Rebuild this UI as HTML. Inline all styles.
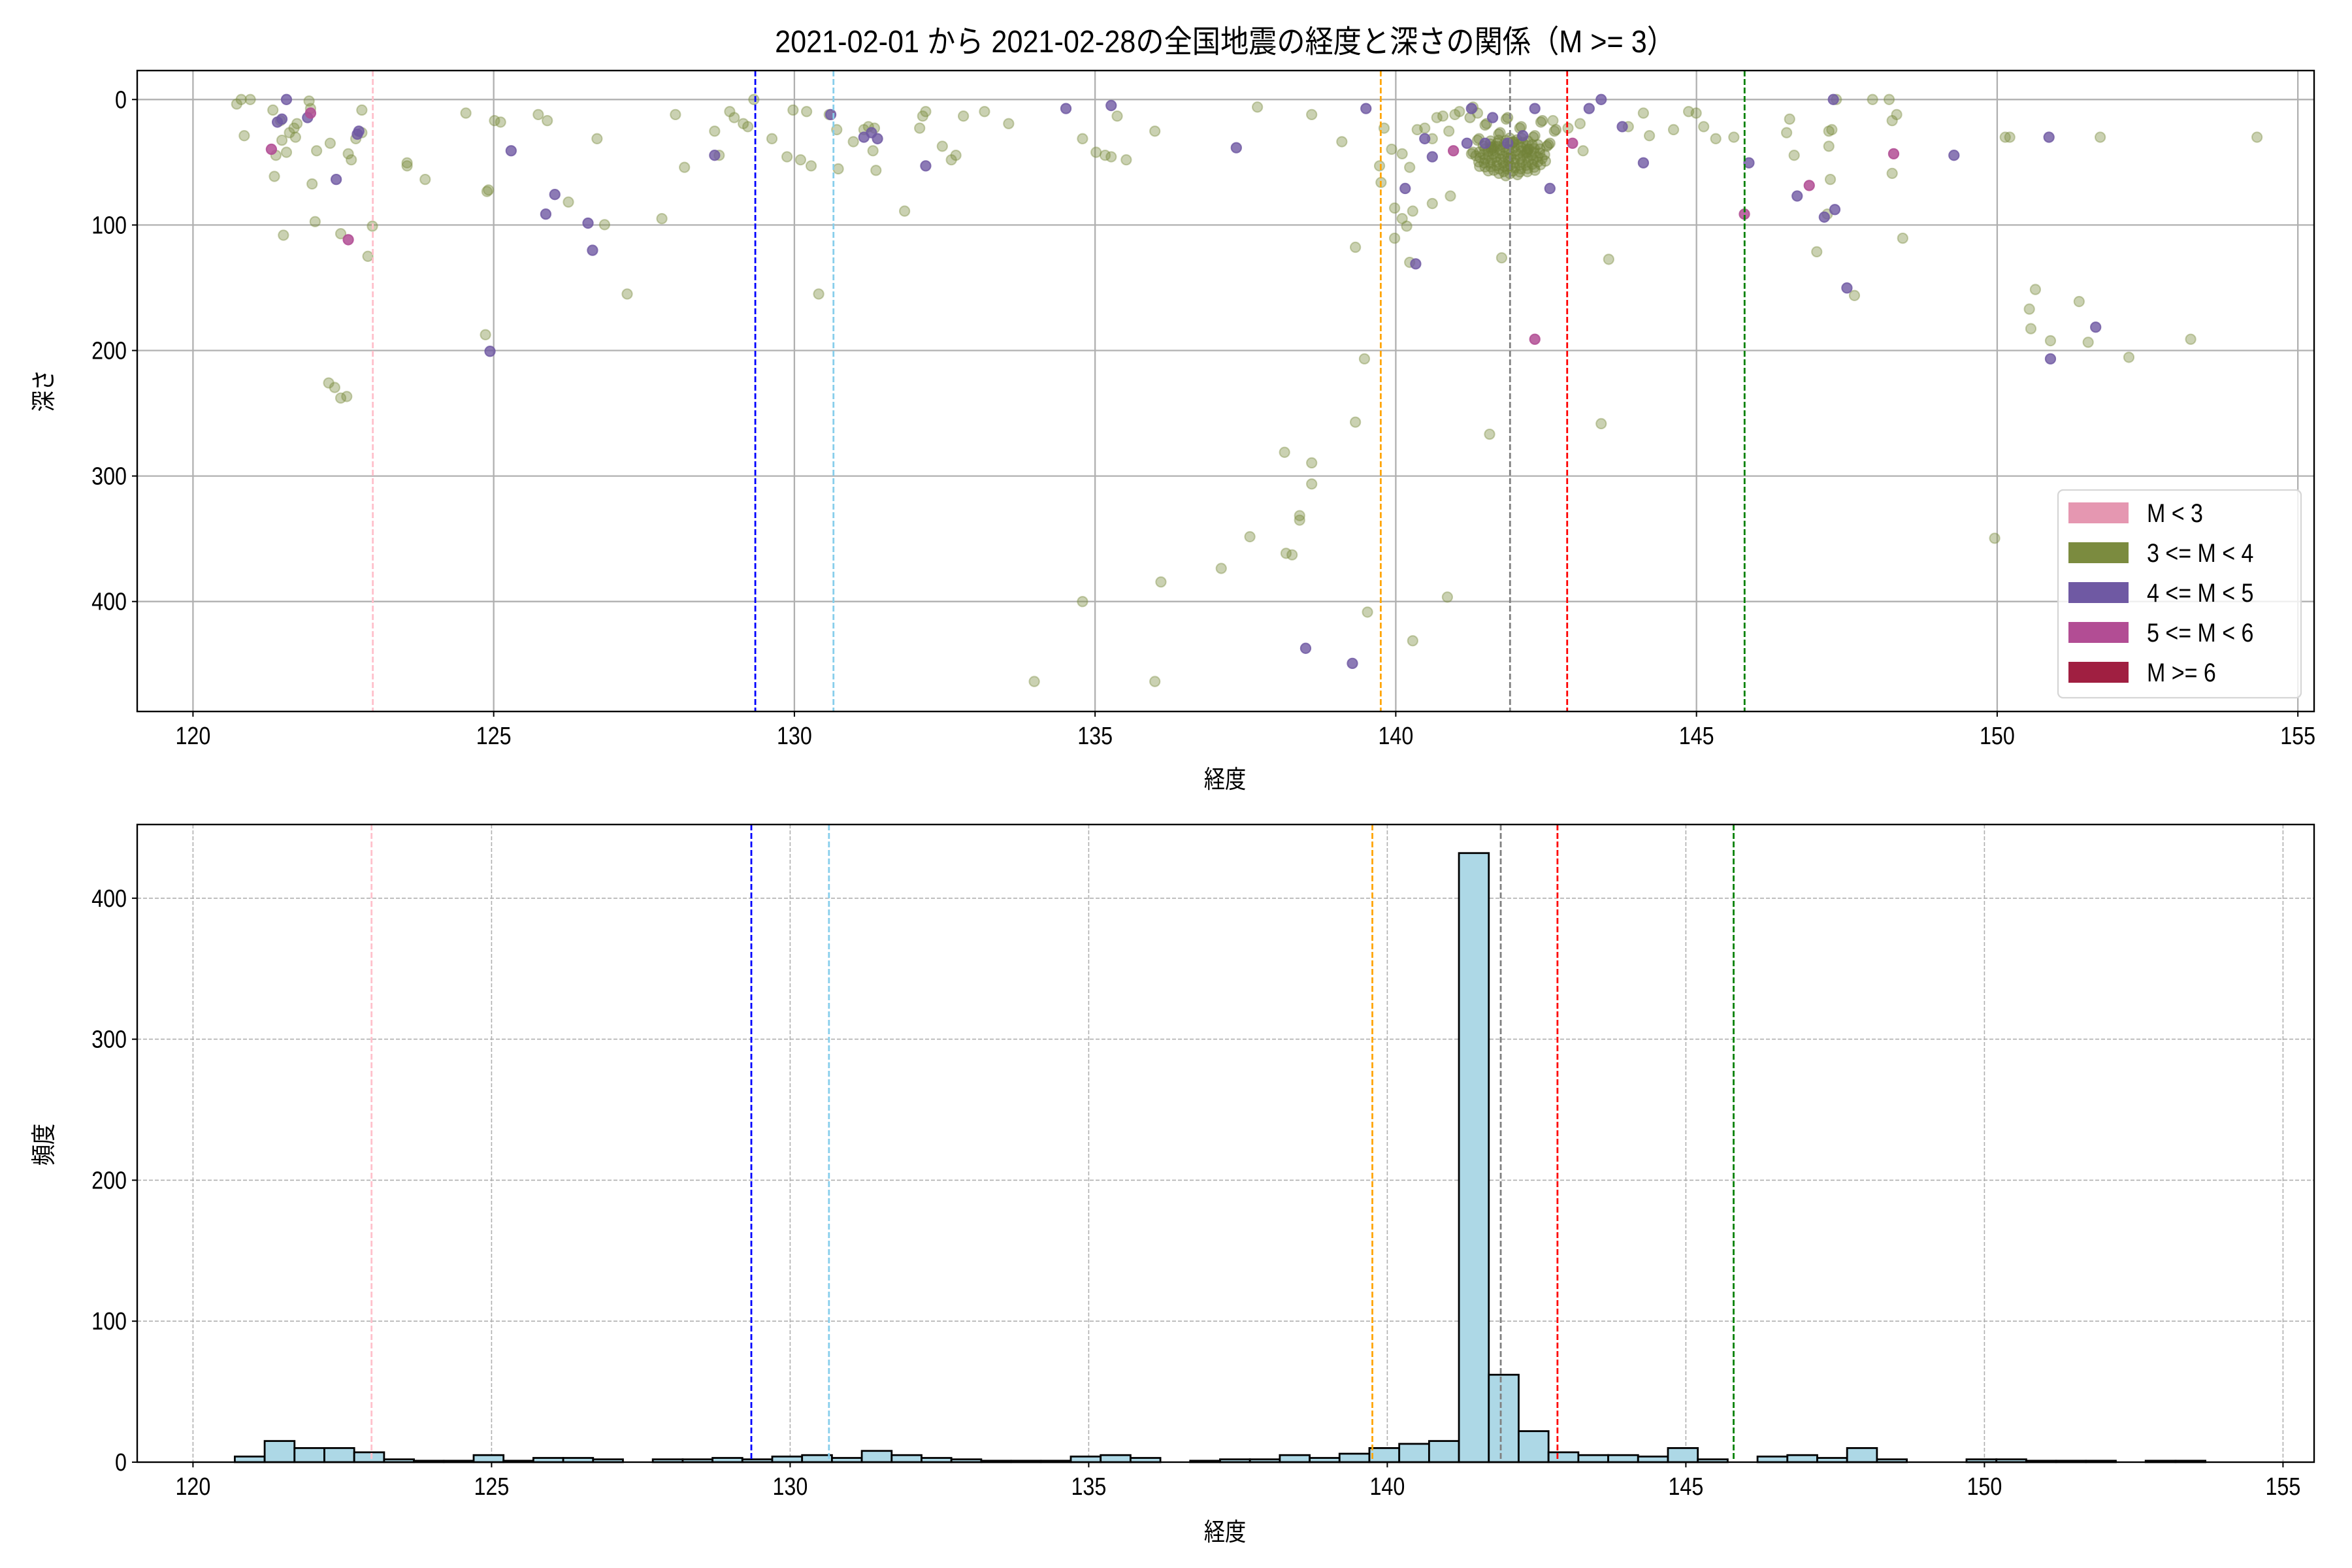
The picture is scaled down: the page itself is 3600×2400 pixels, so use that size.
<!DOCTYPE html>
<html><head><meta charset="utf-8">
<style>
html,body{margin:0;padding:0;background:#fff}
svg{display:block}
text{font-family:"Liberation Sans","Noto Sans CJK JP",sans-serif;fill:#000}
</style></head>
<body>
<svg id="s" width="3600" height="2400" xmlns="http://www.w3.org/2000/svg">
<rect width="3600" height="2400" fill="#fff"/>
<g transform="translate(1875,80) scale(0.9,1)"><text x="0" y="0" font-size="48" text-anchor="middle">2021-02-01 から 2021-02-28の全国地震の経度と深さの関係（M &gt;= 3）</text></g>
<g id="gtop"></g>
<g id="gbot"></g>
</svg>
<script>
(function(){
const NS="http://www.w3.org/2000/svg";
function el(p,t,a,txt){const e=document.createElementNS(NS,t);for(const k in a)e.setAttribute(k,a[k]);if(txt!==undefined)e.textContent=txt;p.appendChild(e);return e;}
function tx(p,x,y,s,anchor,fs,rot){const g=el(p,'g',{transform:'translate('+x+','+y+')'+(rot?' rotate(-90)':'')+' scale(0.85,1)'});el(g,'text',{x:0,y:0,'font-size':fs,'text-anchor':anchor},s);}
const gt=document.getElementById('gtop'),gb=document.getElementById('gbot');
const L=210,R=3542,T1=108,B1=1089,T2=1262,B2=2238;
const xt=l=>295.4+92.05*(l-120), yt=v=>152.3+1.921*v;
const xb=l=>295.4+91.4*(l-120), yb=v=>2238-2.158*v;
for(let l=120;l<=155;l+=5){el(gt,'line',{x1:xt(l),x2:xt(l),y1:T1,y2:B1,stroke:'#b0b0b0','stroke-width':2.3});}
for(let v=0;v<=400;v+=100){el(gt,'line',{x1:L,x2:R,y1:yt(v),y2:yt(v),stroke:'#b0b0b0','stroke-width':2.3});}
const vl=[[122.99,'pink'],[129.35,'blue'],[130.65,'#87ceeb'],[139.75,'orange'],[141.9,'gray'],[142.85,'red'],[145.8,'green']];
const g=el(gt,'g',{transform:'scale(2.3077)'});
const ol=[[157,69],[160,66],[166,66],[162,90],[181,73],[183,103],[182,117],[186,80],[187,93],[190,101],[192,88],[195,85],[188,156],[196,91],[197,82],[205,67],[206,72],[207,122],[209,147],[210,100],[219,95],[226,155],[231,102],[233,106],[236,92],[240,73],[240,88],[244,170],[247,150],[218,254],[222,257],[226,264],[230,263],[270,108],[270,110],[282,119],[309,75],[322,222],[323,127],[324,126],[328,80],[332,81],[357,76],[363,80],[377,134],[396,92],[401,149],[416,195],[439,145],[448,76],[454,111],[474,87],[477,103],[484,74],[487,78],[493,82],[496,84],[500,66],[512,92],[522,104],[526,73],[531,106],[535,74],[538,110],[543,195],[550,76],[555,86],[556,112],[566,94],[573,86],[579,100],[581,113],[576,84],[580,85],[600,140],[610,85],[612,77],[614,74],[625,97],[631,106],[634,103],[639,77],[653,74],[669,82],[686,452],[718,92],[718,399],[727,101],[733,103],[737,104],[741,77],[747,106],[766,87],[766,452],[770,386],[810,377],[829,356],[834,71],[852,300],[853,367],[857,368],[862,342],[862,345],[870,307],[870,321],[870,76],[890,94],[899,164],[899,280],[905,238],[907,406],[916,121],[923,99],[918,85],[937,425],[935,111],[930,102],[940,86],[945,85],[950,92],[953,78],[957,77],[961,87],[965,76],[968,74],[977,71],[980,75],[988,288],[933,150],[925,158],[925,138],[930,145],[935,174],[937,140],[960,396],[996,171],[1067,172],[1062,281],[1080,84],[1094,90],[1090,75],[1110,86],[1120,74],[1125,75],[1130,84],[1138,92],[1150,91],[1185,88],[1187,79],[1190,103],[1205,167],[1212,142],[1213,97],[1213,87],[1215,86],[1218,66],[1214,119],[1230,196],[1242,66],[1253,66],[1255,80],[1258,76],[1255,115],[1262,158],[1330,91],[1333,91],[1323,357],[1346,205],[1347,218],[1350,192],[1360,226],[1379,200],[1385,227],[1393,91],[1412,237],[1453,225],[1497,91],[915,110],[950,135],[962,130],[1000,110],[1030,80],[1040,85],[1048,82],[1050,100]];
ol.forEach(p=>el(g,'circle',{cx:p[0],cy:p[1],r:3.3,fill:'rgba(123,139,63,0.4)',stroke:'rgba(123,139,63,0.4)','stroke-width':0.9}));
const cl=[];
for(let i=0;i<100;i++){const a=i*2.399,r=Math.sqrt(i/100);cl.push([1002+r*Math.cos(a)*24,104+r*Math.sin(a)*13]);}
for(let i=0;i<30;i++){cl.push([975+((i*37)%60),78+((i*23)%25)]);}
cl.forEach(p=>el(g,'circle',{cx:p[0],cy:p[1],r:3.3,fill:'rgba(115,132,58,0.42)',stroke:'rgba(115,132,58,0.42)','stroke-width':0.9}));
const pu=[[190,66],[184,81],[187,79],[204,78],[223,119],[238,87],[237,89],[339,100],[362,142],[368,129],[390,148],[393,166],[325,233],[474,103],[551,76],[573,91],[578,88],[582,92],[614,110],[707,72],[737,70],[820,98],[866,430],[897,440],[906,72],[932,125],[939,175],[945,92],[950,104],[973,95],[976,72],[985,95],[990,78],[1000,95],[1010,90],[1018,72],[1028,125],[1054,72],[1062,66],[1076,84],[1090,108],[1160,108],[1192,130],[1216,66],[1210,144],[1217,139],[1225,191],[1296,103],[1359,91],[1390,217],[1360,238]];
pu.forEach(p=>el(g,'circle',{cx:p[0],cy:p[1],r:3.3,fill:'rgba(111,89,163,0.8)',stroke:'rgba(111,89,163,0.8)','stroke-width':0.9}));
const mg=[[180,99],[206,75],[231,159],[964,100],[1018,225],[1043,95],[1157,142],[1200,123],[1256,102]];
mg.forEach(p=>el(g,'circle',{cx:p[0],cy:p[1],r:3.3,fill:'rgba(178,77,148,0.85)',stroke:'rgba(178,77,148,0.85)','stroke-width':0.9}));
vl.forEach(v=>el(gt,'line',{x1:xt(v[0]),x2:xt(v[0]),y1:T1,y2:B1,stroke:v[1],'stroke-width':2.8,'stroke-dasharray':'9,4'}));
el(gt,'rect',{x:L,y:T1,width:R-L,height:B1-T1,fill:'none',stroke:'#000','stroke-width':2.4});
for(let l=120;l<=155;l+=5){el(gt,'line',{x1:xt(l),x2:xt(l),y1:B1,y2:B1+8,stroke:'#000','stroke-width':2});tx(gt,xt(l),B1+50,l,'middle',38);}
for(let v=0;v<=400;v+=100){el(gt,'line',{x1:L-8,x2:L,y1:yt(v),y2:yt(v),stroke:'#000','stroke-width':2});tx(gt,L-16,yt(v)+13,v,'end',38);}
tx(gt,1875,1206,'経度','middle',38);
tx(gt,80,598,'深さ','middle',38,true);
el(gt,'rect',{x:3150,y:750,width:372,height:318,rx:8,fill:'rgba(255,255,255,0.8)',stroke:'#d6d6d6','stroke-width':2.3});
const lg=[['#e597b1','M < 3'],['#7b8b3f','3 <= M < 4'],['#6f59a3','4 <= M < 5'],['#b24d94','5 <= M < 6'],['#a01f41','M >= 6']];
lg.forEach((e,i)=>{const y=785+i*61;el(gt,'rect',{x:3166,y:y-16,width:92,height:32,fill:e[0]});tx(gt,3286,y+14,e[1],'start',40);});
for(let l=120;l<=155;l+=5){el(gb,'line',{x1:xb(l),x2:xb(l),y1:T2,y2:B2,stroke:'#b0b0b0','stroke-width':1.6,'stroke-dasharray':'6,3'});}
for(let v=0;v<=400;v+=100){el(gb,'line',{x1:L,x2:R,y1:yb(v),y2:yb(v),stroke:'#b0b0b0','stroke-width':1.6,'stroke-dasharray':'6,3'});}
const h=[4,15,10,10,7,2,1,1,5,1,3,3,2,0,2,2,3,2,4,5,3,8,5,3,2,1,1,1,4,5,3,0,1,2,2,5,3,6,10,13,15,432,62,22,7,5,5,4,10,2,0,4,5,3,10,2,0,0,2,2,1,1,1,0,1,1];
h.forEach((c,i)=>{const l0=120.7+i*0.5;if(c<=0)return;const x0=xb(l0),x1=xb(l0+0.5);el(gb,'rect',{x:x0,y:yb(c),width:x1-x0,height:yb(0)-yb(c),fill:'#add8e6',stroke:'#000','stroke-width':2.8});});
vl.forEach(v=>el(gb,'line',{x1:xb(v[0]),x2:xb(v[0]),y1:T2,y2:B2,stroke:v[1],'stroke-width':2.8,'stroke-dasharray':'9,4'}));
el(gb,'rect',{x:L,y:T2,width:R-L,height:B2-T2,fill:'none',stroke:'#000','stroke-width':2.4});
for(let l=120;l<=155;l+=5){el(gb,'line',{x1:xb(l),x2:xb(l),y1:B2,y2:B2+8,stroke:'#000','stroke-width':2});tx(gb,xb(l),B2+50,l,'middle',38);}
for(let v=0;v<=400;v+=100){el(gb,'line',{x1:L-8,x2:L,y1:yb(v),y2:yb(v),stroke:'#000','stroke-width':2});tx(gb,L-16,yb(v)+13,v,'end',38);}
tx(gb,1875,2358,'経度','middle',38);
tx(gb,80,1752,'頻度','middle',38,true);
})();
</script>
</body></html>
